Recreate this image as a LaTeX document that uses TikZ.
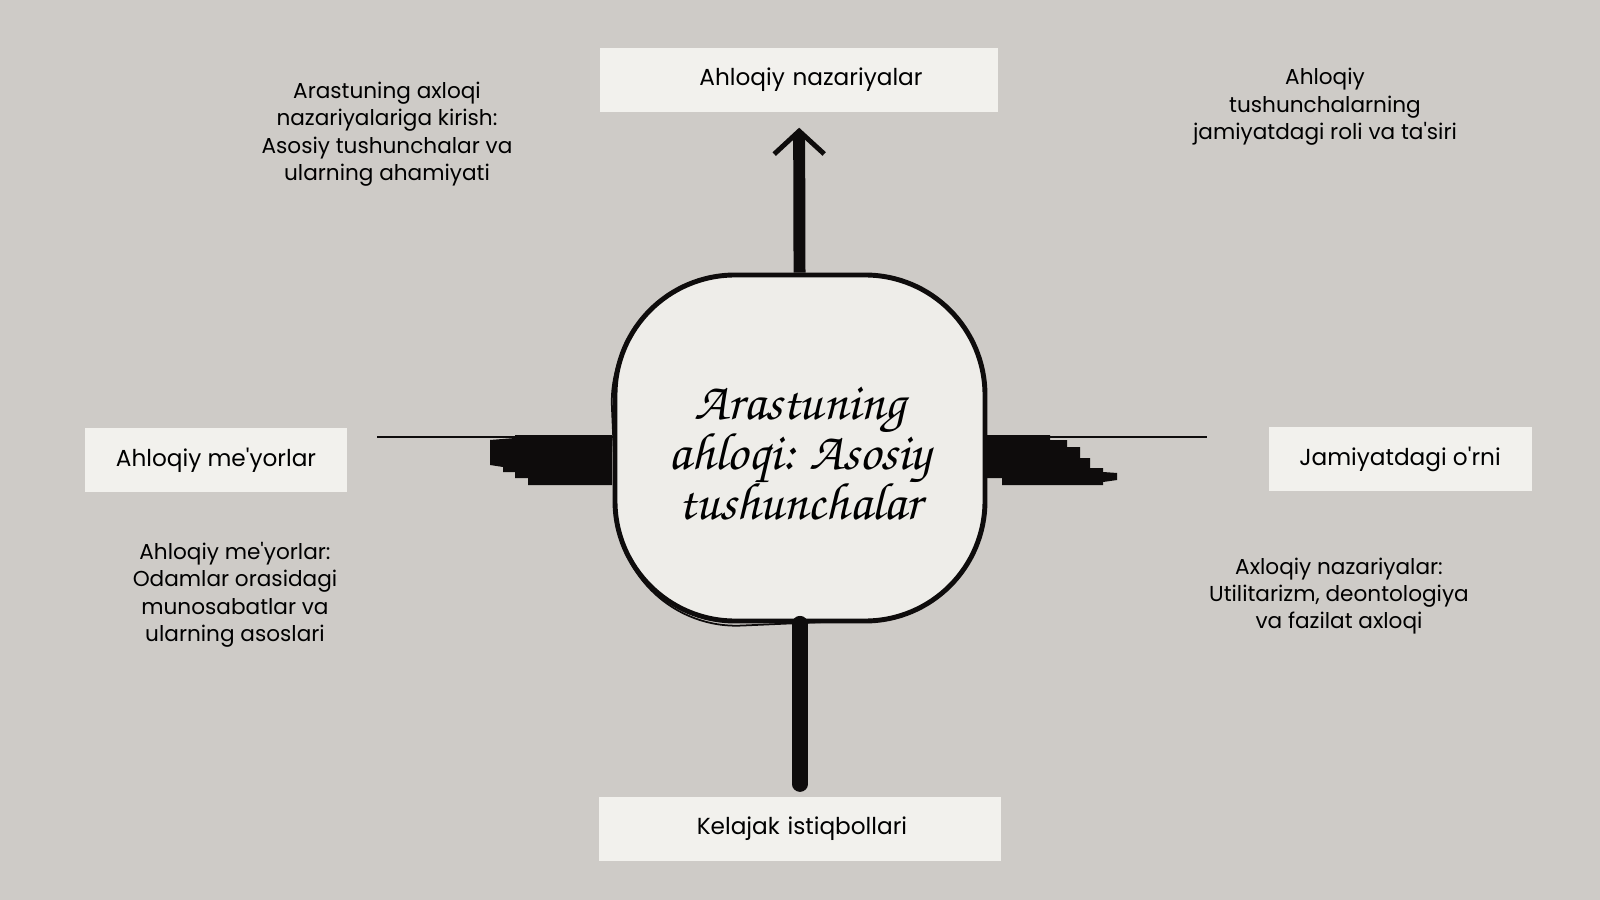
\documentclass[tikz,border=0pt]{standalone}
\usepackage[T1]{fontenc}
\usepackage{fontspec}
\setmainfont{Poppins}
\usetikzlibrary{arrows.meta}

\definecolor{paper}{RGB}{206,203,199}
\definecolor{sheet}{RGB}{242,241,237}
\definecolor{disc}{RGB}{238,237,233}
\definecolor{ink}{RGB}{14,12,12}
\newcommand{\handfont}{\fontencoding{T1}\fontfamily{pzc}\fontseries{m}\fontshape{it}\selectfont}
\newcommand{\apos}{\textquotesingle}

\tikzset{
  labelbox/.style={fill=sheet, minimum height=6.4mm, inner sep=0pt, font=\fontsize{6.6pt}{7.8pt}\selectfont},
  note/.style={align=center, inner sep=0pt, font=\fontsize{6.15pt}{7.8pt}\selectfont},
  stem/.style={draw=ink, line width=3.4pt},
  hairline/.style={draw=ink, line width=0.55pt},
  blob/.style={fill=ink}
}

\begin{document}
\begin{tikzpicture}[x=0.1mm, y=-0.1mm]

\fill [paper] (0,0) rectangle (1600,900);

\node [labelbox, text width=39.8mm, align=center] (Nazariyalar) at (799,80) {\hspace*{2.4mm}Ahloqiy nazariyalar};
\node [labelbox, text width=40.2mm, align=center] (Istiqbollar) at (800,829) {\hspace*{0.4mm}Kelajak istiqbollari};
\node [labelbox, minimum width=26.2mm] (Meyorlar) at (216,460) {Ahloqiy me\apos yorlar};
\node [labelbox, minimum width=26.3mm] (Jamiyat) at (1400,459) {Jamiyatdagi o\apos rni};

\node [note] (Kirish) at (387,134) {Arastuning axloqi\\nazariyalariga kirish:\\Asosiy tushunchalar va\\ularning ahamiyati};
\node [note] (Roli) at (1325,107) {Ahloqiy\\tushunchalarning\\jamiyatdagi roli va ta\apos siri};
\node [note] (Munosabat) at (235,595) {Ahloqiy me\apos yorlar:\\Odamlar orasidagi\\munosabatlar va\\ularning asoslari};
\node [note] (Axloq) at (1339,596) {Axloqiy nazariyalar:\\Utilitarizm, deontologiya\\va fazilat axloqi};

\node [draw=ink, line width=0.5pt, rounded corners=12mm, minimum width=36.6mm, minimum height=34.4mm, rotate=2.5] (Echo) at (797,451) {};
\node [draw=ink, fill=disc, line width=1.4pt, rounded corners=12mm, minimum width=37mm, minimum height=34.6mm, align=center,
  font={\fontsize{15pt}{14.2pt}\handfont\lineskiplimit=-20pt}] (Center) at (800,448) {\\[-0.6mm]Arastuning\\ahloqi: Asosiy\\tushunchalar};

\coordinate (MeyorlarEnd) at (377,437);
\coordinate (JamiyatEnd) at (1207,437);

\draw [stem, -{Straight Barb[length=2.3mm, width=5mm, line width=1.4pt]}, shorten >=1.5mm] (Center) -- (Nazariyalar);
\draw [stem, line width=4.3pt, line cap=round, shorten >=1.2mm] (Center) -- (Istiqbollar);
\draw [hairline] (Center.west |- MeyorlarEnd) -- (MeyorlarEnd);
\draw [hairline] (Center.east |- JamiyatEnd) -- (JamiyatEnd);

\fill [blob] (612,435) -- (515,435) -- (515,438) -- (490,440) -- (490,465) -- (503,467) -- (503,472) -- (515,472)
  -- (515,478) -- (528,478) -- (528,485) -- (612,485) -- cycle;
\fill [blob] (986,435) -- (1050,435) -- (1050,440) -- (1067,440) -- (1067,447) -- (1080,447) -- (1080,458) -- (1090,458)
  -- (1090,468) -- (1103,468) -- (1103,472) -- (1117,473) -- (1117,480) -- (1103,482) -- (1103,485) -- (1002,485)
  -- (1002,478) -- (986,478) -- cycle;

\end{tikzpicture}
\end{document}
